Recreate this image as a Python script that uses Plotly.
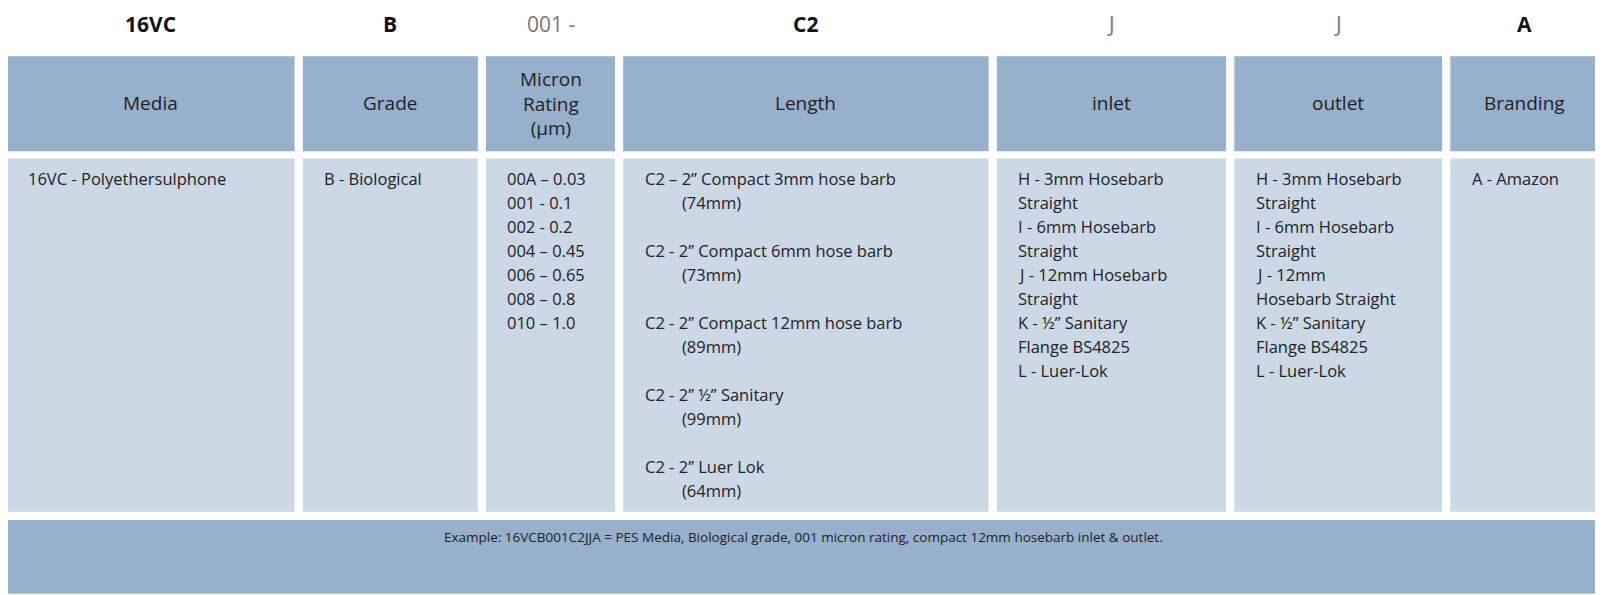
import plotly.graph_objects as go

codes = ["16VC", "B", "001 -", "C2", "J", "J", "A"]
code_bold = [True, True, False, True, False, False, True]
headers = ["Media", "Grade", "Micron<br>Rating<br>(µm)", "Length", "inlet", "outlet", "Branding"]
media = ["16VC - Polyethersulphone"]
grade = ["B - Biological"]
micron = ["00A – 0.03", "001 - 0.1", "002 - 0.2", "004 – 0.45", "006 – 0.65", "008 – 0.8", "010 – 1.0"]
length = ["C2 – 2” Compact 3mm hose barb", ">(74mm)", "",
          "C2 - 2” Compact 6mm hose barb", ">(73mm)", "",
          "C2 - 2” Compact 12mm hose barb", ">(89mm)", "",
          "C2 - 2” ½” Sanitary", ">(99mm)", "",
          "C2 - 2” Luer Lok", ">(64mm)"]
inlet = ["H - 3mm Hosebarb", "Straight", "I - 6mm Hosebarb", "Straight", "J - 12mm Hosebarb",
         "Straight", "K - ½” Sanitary", "Flange BS4825", "L - Luer-Lok"]
outlet = ["H - 3mm Hosebarb", "Straight", "I - 6mm Hosebarb", "Straight", "J - 12mm",
          "Hosebarb Straight", "K - ½” Sanitary", "Flange BS4825", "L - Luer-Lok"]
branding = ["A - Amazon"]
body = [media, grade, micron, length, inlet, outlet, branding]
footer = "Example: 16VCB001C2JJA = PES Media, Biological grade, 001 micron rating, compact 12mm hosebarb inlet & outlet."

cols = [(7, 288), (296, 467), (475, 601), (609, 966), (974, 1198), (1206, 1409), (1417, 1562)]
HDR = "#97b0cb"; BODY = "#cbd8e5"; TXT = "#222222"
FONT = "Open Sans"

fig = go.Figure()
shapes = []; ann = []
for i, (x0, x1) in enumerate(cols):
    shapes.append(dict(type="rect", x0=x0, x1=x1, y0=55, y1=148, fillcolor=HDR, line_width=0, layer="below"))
    shapes.append(dict(type="rect", x0=x0, x1=x1, y0=155, y1=500, fillcolor=BODY, line_width=0, layer="below"))
    cx = (x0 + x1) / 2
    ann.append(dict(x=cx, y=24, text=f"<b>{codes[i]}</b>" if code_bold[i] else codes[i], showarrow=False,
                    font=dict(size=21, color="#111" if code_bold[i] else "#777", family=FONT)))
    ann.append(dict(x=cx, y=101, text=headers[i], showarrow=False,
                    font=dict(size=19, color=TXT, family=FONT)))
    for j, line in enumerate(body[i]):
        if not line:
            continue
        indent = 0
        if line.startswith(">"):
            line = line[1:]; indent = 36
        ann.append(dict(x=x0 + 19 + indent, y=174 + 23.5 * j, text=line, showarrow=False, xanchor="left",
                        font=dict(size=16.5, color=TXT, family=FONT)))
shapes.append(dict(type="rect", x0=7, x1=1562, y0=508, y1=580, fillcolor=HDR, line_width=0, layer="below"))
ann.append(dict(x=785, y=525, text=footer, showarrow=False, font=dict(size=13.5, color=TXT, family=FONT)))

fig.update_layout(width=1603, height=595, margin=dict(l=0, r=0, t=0, b=0),
                  plot_bgcolor="white", paper_bgcolor="white", shapes=shapes, annotations=ann,
                  xaxis=dict(range=[8, 1574], visible=False, fixedrange=True),
                  yaxis=dict(range=[589, 8], visible=False, fixedrange=True), showlegend=False)
fig.write_html("out.html")
